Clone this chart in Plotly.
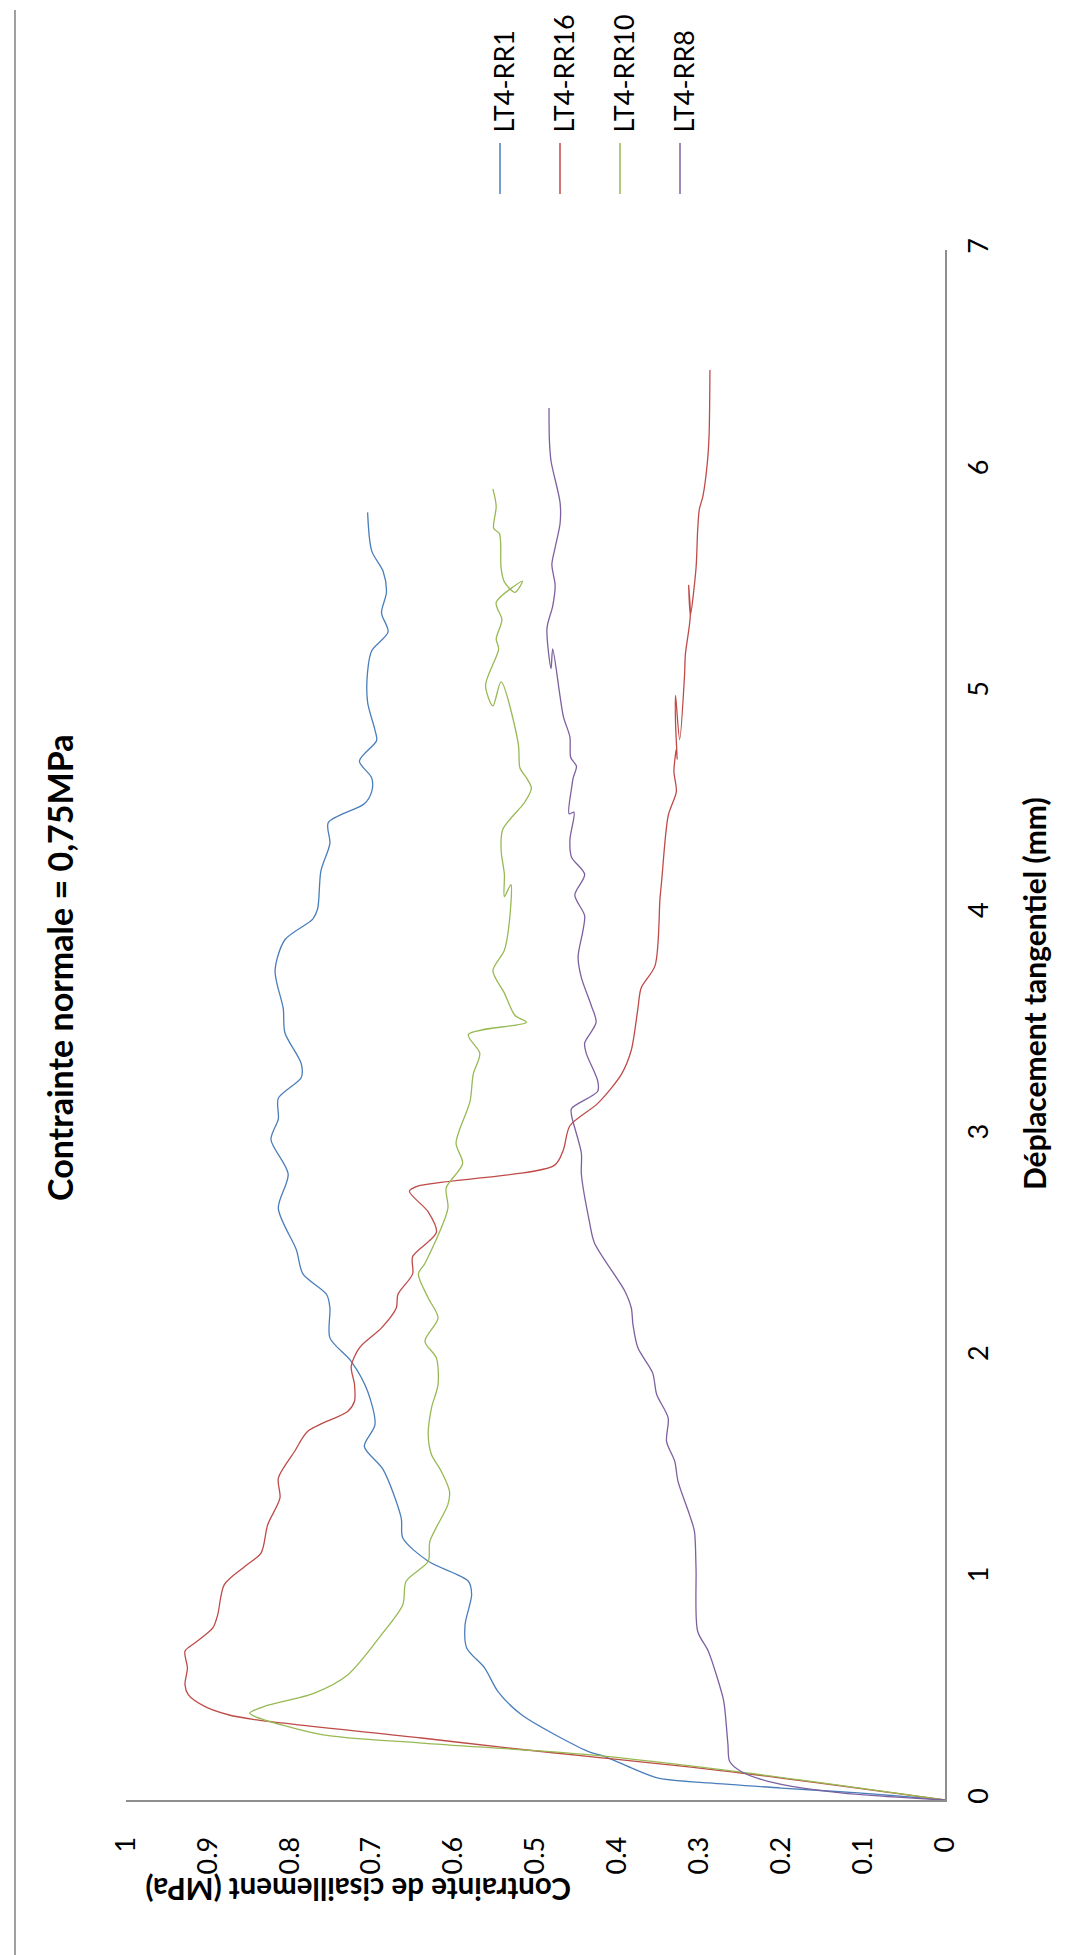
import plotly.graph_objects as go

# ---------------- data (displacement mm, shear stress MPa) ----------------
series_names = ["LT4-RR1", "LT4-RR16", "LT4-RR10", "LT4-RR8"]
series_colors = ["#4A7EBB", "#BE4B48", "#98B954", "#7D60A0"]

rr1_disp = [0, 0.032, 0.054, 0.077, 0.099, 0.145, 0.197, 0.220, 0.385, 0.491,
            0.596, 0.687, 0.792, 0.927, 0.988, 1.078, 1.183, 1.274, 1.492, 1.597,
            1.695, 1.846, 1.981, 2.087, 2.222, 2.283, 2.376, 2.485, 2.672, 2.827,
            2.983, 3.076, 3.169, 3.263, 3.325, 3.465, 3.574, 3.745, 3.885, 3.978,
            4.025, 4.196, 4.320, 4.414, 4.499, 4.554, 4.616, 4.692, 4.785, 4.832,
            4.957, 5.097, 5.190, 5.275, 5.361, 5.454, 5.548, 5.641, 5.815]
rr1_stress = [0, 0.106, 0.200, 0.289, 0.350, 0.383, 0.416, 0.436, 0.517, 0.546,
              0.562, 0.584, 0.586, 0.578, 0.582, 0.631, 0.662, 0.664, 0.686, 0.709,
              0.696, 0.705, 0.725, 0.751, 0.751, 0.755, 0.784, 0.792, 0.814, 0.802,
              0.823, 0.814, 0.814, 0.786, 0.786, 0.806, 0.808, 0.818, 0.806, 0.772,
              0.766, 0.762, 0.751, 0.753, 0.709, 0.700, 0.700, 0.715, 0.694, 0.696,
              0.705, 0.705, 0.700, 0.680, 0.688, 0.682, 0.686, 0.700, 0.705]

rr16_disp = [0, 0.122, 0.197, 0.235, 0.280, 0.363, 0.385, 0.423, 0.476, 0.521,
             0.596, 0.672, 0.709, 0.777, 0.837, 0.973, 1.055, 1.116, 1.243, 1.364,
             1.454, 1.575, 1.665, 1.756, 1.801, 1.876, 1.959, 2.042, 2.132, 2.222,
             2.283, 2.376, 2.454, 2.563, 2.656, 2.749, 2.773, 2.866, 2.936, 3.045,
             3.146, 3.278, 3.387, 3.574, 3.667, 3.768, 4.072, 4.149, 4.445, 4.554,
             4.616, 4.645, 4.747, 4.700, 4.863, 4.988, 4.789, 5.081, 5.174, 5.346,
             5.485, 5.350, 5.563, 5.734, 5.828, 5.890, 6.046, 6.170, 6.458]
rr16_stress = [0, 0.249, 0.436, 0.534, 0.639, 0.843, 0.875, 0.904, 0.924, 0.928,
               0.925, 0.928, 0.916, 0.894, 0.888, 0.880, 0.855, 0.835, 0.827, 0.812,
               0.814, 0.794, 0.778, 0.729, 0.721, 0.721, 0.725, 0.715, 0.688, 0.670,
               0.668, 0.650, 0.650, 0.621, 0.631, 0.654, 0.643, 0.477, 0.466, 0.458,
               0.424, 0.395, 0.383, 0.375, 0.371, 0.354, 0.348, 0.346, 0.338, 0.328,
               0.330, 0.331, 0.328, 0.327, 0.329, 0.329, 0.324, 0.318, 0.317, 0.311,
               0.313, 0.311, 0.304, 0.302, 0.300, 0.2955, 0.290, 0.288, 0.287]

rr10_disp = [0, 0.126, 0.205, 0.257, 0.295, 0.378, 0.393, 0.423, 0.483, 0.566,
             0.747, 0.882, 0.988, 1.078, 1.168, 1.334, 1.394, 1.484, 1.560, 1.650,
             1.771, 1.876, 1.996, 2.072, 2.177, 2.267, 2.376, 2.423, 2.672, 2.765,
             2.874, 2.967, 3.154, 3.278, 3.372, 3.457, 3.512, 3.543, 3.644, 3.745,
             3.838, 3.963, 4.134, 4.080, 4.180, 4.289, 4.383, 4.507, 4.569, 4.616,
             4.661, 4.770, 5.050, 4.941, 5.034, 5.198, 5.244, 5.330, 5.408, 5.504,
             5.454, 5.501, 5.563, 5.719, 5.742, 5.843, 5.921]
rr10_stress = [0, 0.249, 0.436, 0.639, 0.761, 0.843, 0.849, 0.831, 0.770, 0.729,
               0.688, 0.662, 0.658, 0.631, 0.629, 0.607, 0.605, 0.615, 0.627, 0.631,
               0.627, 0.619, 0.621, 0.635, 0.619, 0.631, 0.643, 0.635, 0.607, 0.609,
               0.589, 0.597, 0.580, 0.576, 0.568, 0.582, 0.511, 0.525, 0.538, 0.552,
               0.538, 0.532, 0.530, 0.538, 0.538, 0.542, 0.540, 0.513, 0.505, 0.511,
               0.519, 0.521, 0.542, 0.552, 0.561, 0.545, 0.548, 0.541, 0.548, 0.516,
               0.525, 0.538, 0.542, 0.544, 0.551, 0.548, 0.552]

rr8_disp = [0, 0.032, 0.077, 0.129, 0.175, 0.250, 0.416, 0.461, 0.672, 0.762,
            1.048, 1.214, 1.289, 1.439, 1.530, 1.620, 1.725, 1.831, 1.929, 2.042,
            2.147, 2.222, 2.299, 2.516, 2.609, 2.827, 2.921, 3.092, 3.123, 3.201,
            3.247, 3.372, 3.418, 3.512, 3.589, 3.714, 3.807, 3.927, 3.994, 4.087,
            4.180, 4.258, 4.336, 4.461, 4.454, 4.569, 4.616, 4.669, 4.708, 4.801,
            4.894, 5.198, 5.109, 5.291, 5.392, 5.485, 5.579, 5.657, 5.765, 5.859,
            6.046, 6.139, 6.287]
rr8_stress = [0, 0.127, 0.208, 0.249, 0.263, 0.265, 0.269, 0.271, 0.289, 0.302,
              0.304, 0.306, 0.312, 0.326, 0.330, 0.340, 0.338, 0.352, 0.357, 0.375,
              0.381, 0.383, 0.391, 0.428, 0.434, 0.444, 0.444, 0.456, 0.456, 0.424,
              0.424, 0.438, 0.440, 0.426, 0.432, 0.444, 0.448, 0.442, 0.440, 0.452,
              0.440, 0.456, 0.458, 0.453, 0.459, 0.456, 0.454, 0.450, 0.457, 0.458,
              0.466, 0.479, 0.481, 0.486, 0.479, 0.476, 0.480, 0.476, 0.470, 0.470,
              0.481, 0.483, 0.4835]

stress_ticks = [0, 0.1, 0.2, 0.3, 0.4, 0.5, 0.6, 0.7, 0.8, 0.9, 1]
stress_ticklabels = ["0", "0.1", "0.2", "0.3", "0.4", "0.5", "0.6", "0.7", "0.8", "0.9", "1"]
disp_ticks = [0, 1, 2, 3, 4, 5, 6, 7]
disp_ticklabels = ["0", "1", "2", "3", "4", "5", "6", "7"]

title_text = "Contrainte normale = 0,75MPa"
xtitle_text = "Déplacement tangentiel (mm)"
ytitle_text = "Contrainte de cisaillement (MPa)"

# ---------------- layout geometry (pixels) ----------------
W, H = 1078, 1955
L, R, T, B = 118, 937, 242, 1792
PW, PH = R - L, B - T


def px(x):
    return (x - L) / PW


def py(y):
    return (B - y) / PH


fig = go.Figure()
all_disp = [rr1_disp, rr16_disp, rr10_disp, rr8_disp]
all_stress = [rr1_stress, rr16_stress, rr10_stress, rr8_stress]
for name, col, d, s in zip(series_names, series_colors, all_disp, all_stress):
    fig.add_trace(go.Scatter(
        x=s, y=d, mode="lines", name=name,
        line=dict(color=col, width=1.3, shape="spline", smoothing=0.8),
        showlegend=False, hoverinfo="skip",
    ))

tick_font = dict(family="Lato, Carlito, sans-serif", size=27, color="#000000")
axis_color = "#8e8e8e"

fig.update_layout(
    width=W, height=H, autosize=False,
    margin=dict(l=L, r=W - R, t=T, b=H - B, pad=0),
    paper_bgcolor="white", plot_bgcolor="white",
    xaxis=dict(
        range=[1, 0], tickvals=stress_ticks, ticktext=stress_ticklabels,
        tickangle=-90, tickfont=tick_font, showgrid=False, zeroline=False,
        showline=True, linecolor=axis_color, linewidth=2, ticks="",
        ticklabelstandoff=24, fixedrange=True,
    ),
    yaxis=dict(
        range=[0, 7], tickvals=disp_ticks, ticktext=disp_ticklabels,
        side="right", tickangle=-90, tickfont=tick_font, showgrid=False,
        zeroline=False, showline=True, linecolor=axis_color, linewidth=2,
        ticks="", ticklabelstandoff=9, fixedrange=True,
    ),
    showlegend=False,
)

title_font = dict(family="Lato, Open Sans, sans-serif", size=34, color="#000000")
axis_title_font = dict(family="Lato, Open Sans, sans-serif", size=30, color="#000000")
ytitle_font = dict(family="Lato, Open Sans, sans-serif", size=29.5, color="#000000")

annotations = [
    dict(text="<b>" + title_text + "</b>", x=px(51), y=py(960), xref="paper", yref="paper",
         textangle=-90, showarrow=False, xanchor="center", yanchor="middle", font=title_font),
    dict(text="<b>" + xtitle_text + "</b>", x=px(1026), y=py(986), xref="paper", yref="paper",
         textangle=-90, showarrow=False, xanchor="center", yanchor="middle", font=axis_title_font),
    dict(text="<b>" + ytitle_text + "</b>", x=px(350), y=py(1882), xref="paper", yref="paper",
         textangle=180, showarrow=False, xanchor="center", yanchor="middle", font=ytitle_font),
]

legend_font = dict(family="Lato, Carlito, sans-serif", size=27, color="#000000")
legend_x = [492, 552, 612, 672]
shapes = []
for name, col, lx in zip(series_names, series_colors, legend_x):
    annotations.append(dict(text=name, x=px(lx + 3.5), y=py(127), xref="paper", yref="paper",
                            textangle=-90, showarrow=False, xanchor="center", yanchor="bottom",
                            font=legend_font))
    shapes.append(dict(type="line", xref="paper", yref="paper",
                       x0=px(lx), x1=px(lx), y0=py(135), y1=py(186),
                       line=dict(color=col, width=1.5)))

# outer chart border (left and bottom edges visible)
shapes.append(dict(type="line", xref="paper", yref="paper", x0=px(7), x1=px(7),
                   y0=py(2), y1=py(1949), line=dict(color="#a0a0a0", width=2)))
shapes.append(dict(type="line", xref="paper", yref="paper", x0=px(7), x1=px(1078),
                   y0=py(1949), y1=py(1949), line=dict(color="#a0a0a0", width=2)))

fig.update_layout(annotations=annotations, shapes=shapes)
fig.write_html("out.html", config={"displayModeBar": False})
